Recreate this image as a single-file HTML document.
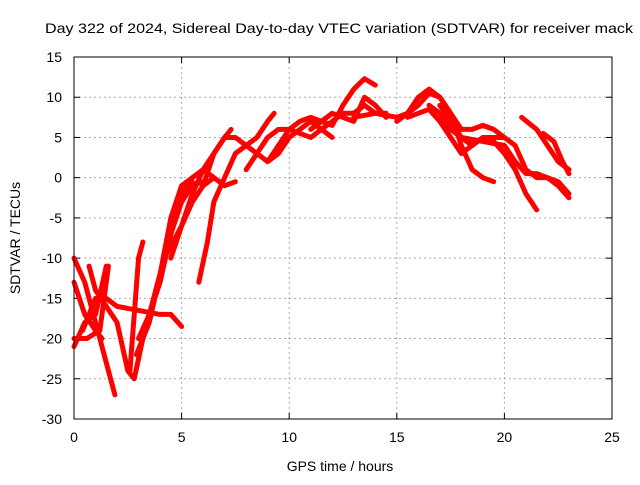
<!DOCTYPE html>
<html><head><meta charset="utf-8"><style>
body{margin:0;background:#fff}
svg text{font-family:"Liberation Sans",sans-serif;font-size:14px;fill:#000}
</style></head><body>
<svg id="c" width="640" height="480">
<text x="339" y="33" text-anchor="middle" textLength="588" lengthAdjust="spacingAndGlyphs">Day 322 of 2024, Sidereal Day-to-day VTEC variation (SDTVAR) for receiver mack</text>
<text x="340" y="471" text-anchor="middle">GPS time / hours</text>
<text transform="translate(20,238) rotate(-90)" text-anchor="middle">SDTVAR / TECUs</text>
<g id="grid"></g><g id="ticks"></g><g id="series"></g>
<rect x="74" y="57" width="538" height="362" fill="none" stroke="#000"/>
</svg>
<script>
const xTicks=[0,5,10,15,20,25];
const yTicks=[15,10,5,0,-5,-10,-15,-20,-25,-30];
const tracks=[
[[0,-10],[0.5,-13],[1,-18],[1.5,-23],[1.9,-27]],
[[0,-13],[0.5,-17],[1,-19],[1.3,-20]],
[[0,-21],[0.5,-18],[1,-17],[1.5,-11]],
[[0,-20],[0.6,-20],[1.2,-19],[1.6,-11]],
[[0.7,-11],[1,-14],[1.5,-16],[2,-18],[2.5,-24],[2.8,-25],[3.2,-20],[3.8,-14],[4.5,-7],[5,-2],[5.5,-0.5]],
[[0.4,-19],[1,-15],[1.5,-15],[2,-16],[3,-16.5],[4,-17],[4.5,-17],[5,-18.5]],
[[2.6,-24],[3,-10],[3.2,-8]],
[[2.9,-22],[3.5,-18],[4,-12],[4.5,-5],[5,-1],[5.5,0],[6,1],[6.5,0],[7,-1],[7.5,-0.5]],
[[3,-20],[3.5,-17],[4,-13],[4.5,-7],[5,-3],[5.5,-1],[6,-0.5]],
[[3.8,-14],[4.2,-10],[5,-6],[5.5,-3],[6,-1],[6.5,0]],
[[4.5,-10],[5,-6],[5.5,-2],[6,1],[6.5,3],[7,5],[7.3,6]],
[[5.8,-13],[6.2,-8],[6.5,-3],[7,0],[7.5,3],[8,4],[8.5,5],[9,7],[9.3,8]],
[[6,-1],[6.5,3],[7,5],[7.5,5],[8,4],[8.5,3],[9,2],[9.5,3],[10,5],[10.5,6],[11,7],[11.5,6],[12,5]],
[[8,1],[8.5,3],[9,5],[9.5,6],[10,6],[10.5,7],[11,7.5],[11.5,7],[12,6.5],[12.5,9],[13,11],[13.5,12.3],[14,11.5]],
[[9,2],[9.5,4],[10,6],[10.5,5.5],[11,5],[11.5,6],[12,7],[12.5,8],[13,8],[13.5,9],[14,8],[14.5,8]],
[[11,6],[12,8],[13,7],[13.5,10],[14,9],[14.5,7.5]],
[[13,7.5],[14,8],[15,7.5],[15.5,8],[16,9],[16.5,10.5],[17,10],[17.5,8],[18,4],[18.5,1],[19,0],[19.5,-0.5]],
[[15,7],[15.5,8],[16,10],[16.5,11],[17,10],[17.5,8],[18,6],[18.5,6],[19,6.5],[19.5,6],[20,5]],
[[15.5,7.5],[16,8],[16.5,8.5],[17,7],[17.5,5],[18,3],[18.5,4],[19,5],[19.5,4.5],[20,3],[20.5,1],[21,-2],[21.5,-4]],
[[16.5,9],[17,8],[17.5,6],[18,5],[19,4.5],[20,4],[20.5,2],[21,0.5],[21.5,0.5],[22,0],[22.5,-0.5],[23,-2]],
[[17,9],[17.5,7],[18,5],[18.5,4],[19,5],[20,5],[20.5,4],[21,1],[21.5,0],[22,0],[22.5,-1],[23,-2.5]],
[[20.8,7.5],[21.5,6],[22,4],[22.5,2],[23,1]],
[[21.8,5.5],[22.3,4.5],[22.7,2],[23,0.5]]
];
const X=v=>74+v*538/25, Y=v=>57+(15-v)*362/45;
const NS="http://www.w3.org/2000/svg";
function mk(t,a,p){const e=document.createElementNS(NS,t);for(const k in a)e.setAttribute(k,a[k]);p.appendChild(e);return e;}
const g=document.getElementById('grid'),tk=document.getElementById('ticks'),s=document.getElementById('series');
xTicks.forEach(v=>{
 if(v>0&&v<25){const l=mk('line',{x1:X(v),x2:X(v),y1:57,y2:419,stroke:'#aaa','stroke-dasharray':'2,3'},g);
 
 }
 mk('line',{x1:X(v),x2:X(v),y1:419,y2:413,stroke:'#000'},tk);
 mk('line',{x1:X(v),x2:X(v),y1:57,y2:63,stroke:'#000'},tk);
 const t=mk('text',{x:X(v),y:442,'text-anchor':'middle'},tk);t.textContent=v;
 
 
});
yTicks.forEach(v=>{
 if(v<15&&v>-30){const l=mk('line',{x1:74,x2:612,y1:Y(v),y2:Y(v),stroke:'#aaa','stroke-dasharray':'2,3'},g);
 
 }
 mk('line',{x1:74,x2:80,y1:Y(v),y2:Y(v),stroke:'#000'},tk);
 mk('line',{x1:606,x2:612,y1:Y(v),y2:Y(v),stroke:'#000'},tk);
 const t=mk('text',{x:62,y:Y(v)+5,'text-anchor':'end'},tk);t.textContent=v;
 
 
});
tracks.forEach((tr,i)=>{
 const p=mk('polyline',{points:tr.map(d=>X(d[0])+','+Y(d[1])).join(' '),fill:'none',stroke:'#f00','stroke-width':5,'stroke-linejoin':'round','stroke-linecap':'round'},s);
 
 
});
</script>
</body></html>
